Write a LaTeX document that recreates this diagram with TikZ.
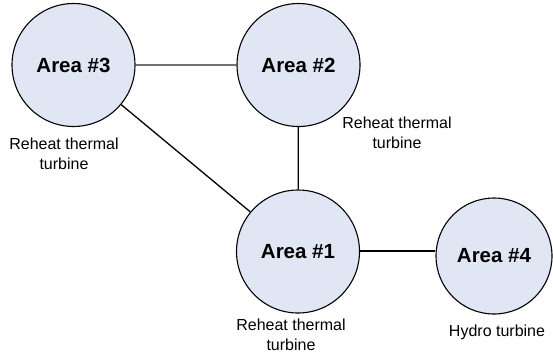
\documentclass[tikz,border=0pt]{standalone}
\usepackage{fontspec}
\setmainfont{Liberation Sans}
\begin{document}
\begin{tikzpicture}[x=1pt,y=-1pt,
  area/.style={circle,draw=black,line width=1.1pt,fill=areafill,inner sep=0pt,minimum size=#1,font=\fontsize{20.5}{23}\selectfont\bfseries},
  area/.default=123pt,
  lbl/.style={align=center,font=\fontsize{16}{20}\selectfont,inner sep=0pt},
  link/.style={line width=1.3pt,draw=black}]
\definecolor{areafill}{HTML}{E1E6F4}
\useasboundingbox (0,0) rectangle (553,357);
\node[area] (a3) at (73.5,65) {Area \#3};
\node[area] (a2) at (298.5,65) {Area \#2};
\node[area] (a1) at (298,251.5) {Area \#1};
\node[area=116pt] (a4) at (494,256) {Area \#4};
\draw[line width=1.2pt,draw=black!55] (a3) -- (a2);
\draw[link] (a2) -- (a1);
\draw[link] (a3) -- (a1);
\draw[line width=1.8pt] (a1.east |- 0,251) -- (a4.west |- 0,251);
\node[lbl] (l3) at (64,154) {Reheat thermal\\turbine};
\node[lbl] (l2) at (397,133) {Reheat thermal\\turbine};
\node[lbl] (l1) at (291,335) {Reheat thermal\\turbine};
\node[lbl] (l4) at (497,332) {Hydro turbine};
\end{tikzpicture}
\end{document}
